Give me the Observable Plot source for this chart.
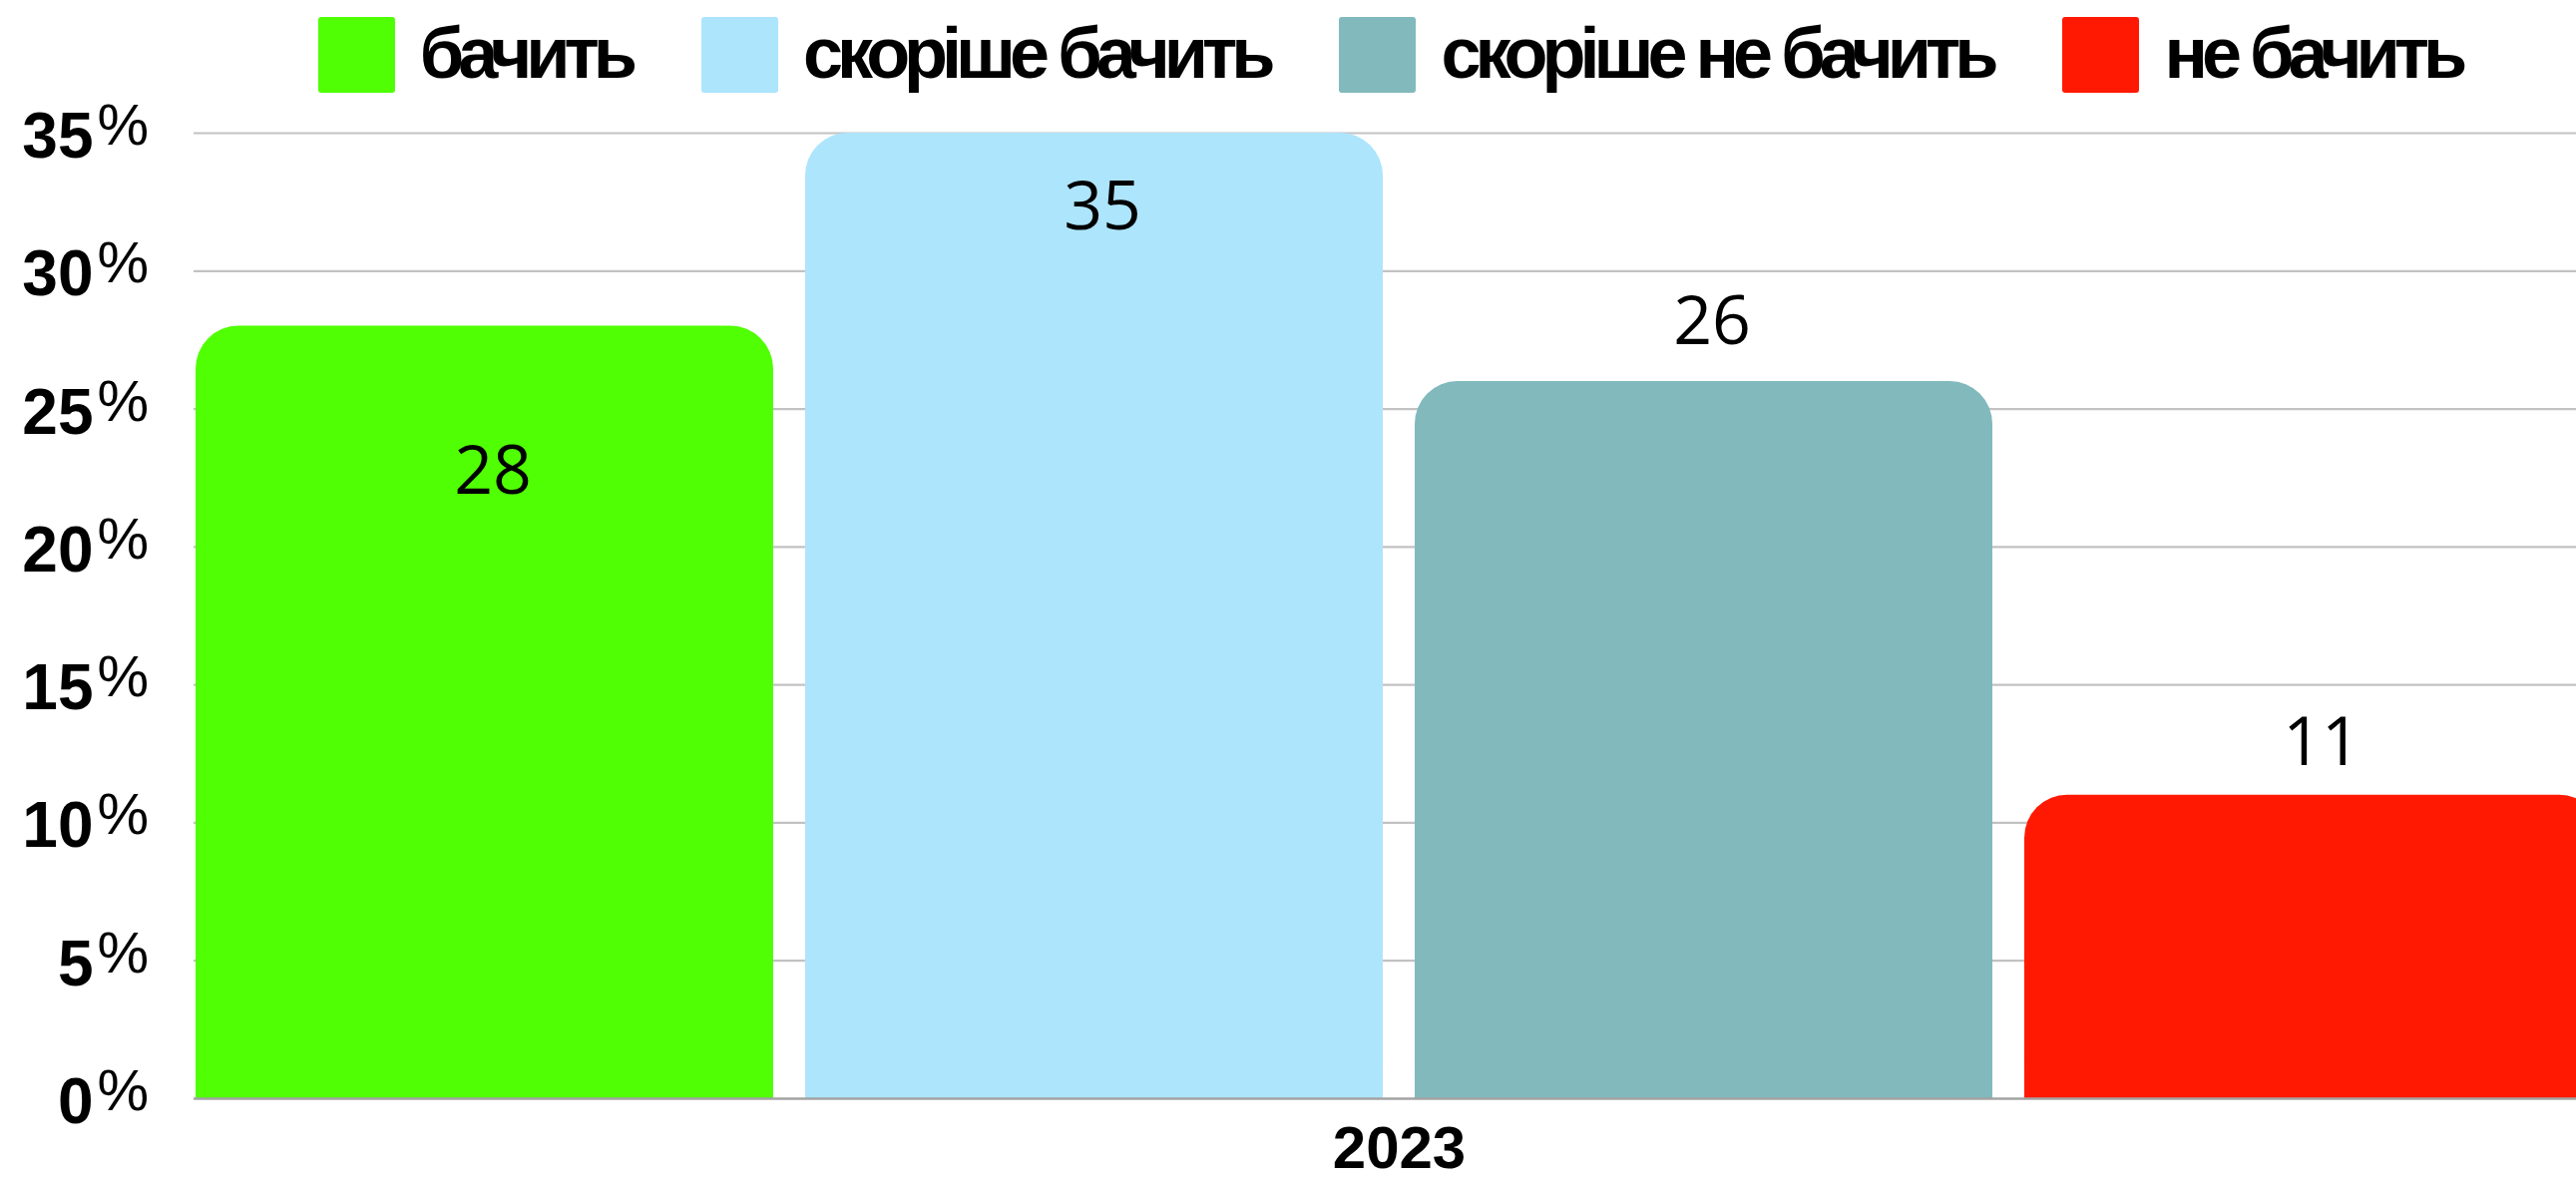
<!DOCTYPE html>
<html>
<head>
<meta charset="utf-8">
<script src="https://cdn.jsdelivr.net/npm/d3@7"></script>
<script src="https://cdn.jsdelivr.net/npm/@observablehq/plot@0.6"></script>
<style>
  html, body { margin: 0; padding: 0; background: #fff; overflow: hidden; width: 2582px; height: 1183px; }
  #legend { position: relative; height: 100px; width: 2582px; display: flex; justify-content: center; align-items: flex-start; padding-left: 204px; box-sizing: border-box; }
  .item { display: flex; align-items: flex-start; margin: 0 35px; }
  .sw { width: 77px; height: 76px; margin-top: 17px; border-radius: 3px; }
  .lb { font-family: "Liberation Sans", Arial, sans-serif; font-weight: 700; font-size: 72px; letter-spacing: -6px; color: #000; margin-left: 25px; line-height: 76px; margin-top: 15px; white-space: nowrap; }
  #chart svg { display: block; overflow: visible; }
</style>
</head>
<body>
<div id="legend"></div>
<div id="chart"></div>
<script>
// ---- data ----
const categories = ["бачить", "скоріше бачить", "скоріше не бачить", "не бачить"];
const values = [28, 35, 26, 11];
const colors = ["#50ff03", "#ade5fd", "#81b9bd", "#ff1903"];
const yTicks = [0, 5, 10, 15, 20, 25, 30, 35];
const year = "2023";

const data = categories.map((c, i) => ({category: c, value: values[i]}));

// ---- legend ----
const legend = document.getElementById("legend");
categories.forEach((c, i) => {
  const it = document.createElement("div");
  it.className = "item";
  const sw = document.createElement("div");
  sw.className = "sw";
  sw.style.background = colors[i];
  const lb = document.createElement("div");
  lb.className = "lb";
  lb.textContent = c;
  it.appendChild(sw);
  it.appendChild(lb);
  legend.appendChild(it);
});

// ---- chart ----
const labelShift = [146, 75, -59, -52];
const labelFont = "'Open Sans', 'Noto Sans', sans-serif";
const tickFont = "'Liberation Sans', Arial, sans-serif";

const labelMarks = data.map((d, i) =>
  Plot.text([d], {
    x: "category", y: "value", text: dd => String(dd.value),
    dy: labelShift[i], dx: 8,
    fontSize: 68, fontFamily: labelFont, fontWeight: 400, fill: "#000"
  })
);

const chart = Plot.plot({
  width: 2582,
  height: 1083,
  marginLeft: 194,
  marginRight: 0,
  marginTop: 33,
  marginBottom: 82,
  style: {background: "#fff", overflow: "visible"},
  x: {domain: categories, range: [194, 2610], paddingInner: 0.052, paddingOuter: 0, axis: null},
  y: {domain: [0, 35], axis: null},
  color: {domain: categories, range: colors},
  marks: [
    Plot.ruleY(yTicks.filter(t => t > 0), {stroke: "#c2c2c2", strokeWidth: 2.2}),
    Plot.barY(data, {x: "category", y1: 0, y2: d => d.value / 2, fill: "category"}),
    Plot.barY(data, {x: "category", y: "value", fill: "category", r: 43}),
    Plot.ruleY([0], {stroke: "#a3a3a3", strokeWidth: 2.5}),
    ...labelMarks,
    Plot.text(yTicks, {
      y: d => d, text: d => String(d), frameAnchor: "left",
      dx: -101, dy: 4, textAnchor: "end",
      fontSize: 64, fontWeight: 700, fontFamily: tickFont, fill: "#000"
    }),
    Plot.text(yTicks, {
      y: d => d, text: () => "%", frameAnchor: "left",
      dx: -97, dy: -7, textAnchor: "start",
      fontSize: 58, fontWeight: 400, fontFamily: tickFont, fill: "#000"
    }),
    Plot.text([year], {
      frameAnchor: "bottom", lineAnchor: "middle", text: d => d,
      dx: 14, dy: 50,
      fontSize: 60, fontWeight: 700, fontFamily: tickFont, fill: "#000"
    })
  ]
});
document.getElementById("chart").appendChild(chart);
</script>
</body>
</html>
